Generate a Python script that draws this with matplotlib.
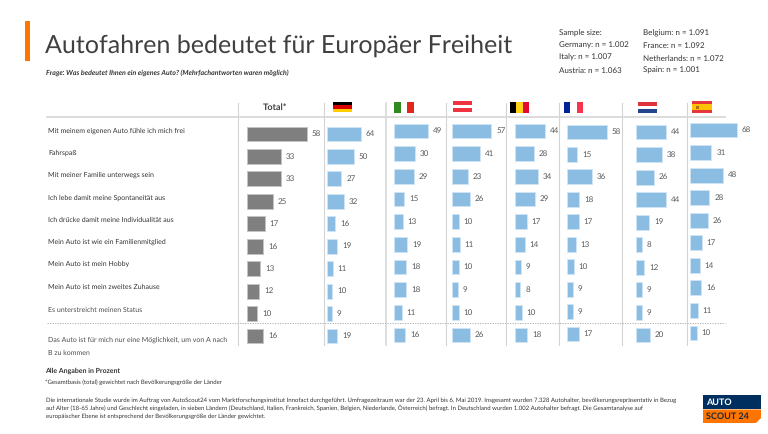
import matplotlib
matplotlib.use("Agg")
import matplotlib.pyplot as plt
from matplotlib.patches import Rectangle, Polygon

plt.rcParams['font.family'] = ['Lato', 'DejaVu Sans']
plt.rcParams['text.hinting'] = 'none'
plt.rcParams['text.hinting_factor'] = 1

W, H = 768, 434

# Data
answers = ["Mit meinem eigenen Auto fühle ich mich frei", "Fahrspaß", "Mit meiner Familie unterwegs sein",
           "Ich lebe damit meine Spontaneität aus", "Ich drücke damit meine Individualität aus",
           "Mein Auto ist wie ein Familienmitglied", "Mein Auto ist mein Hobby",
           "Mein Auto ist mein zweites Zuhause", "Es unterstreicht meinen Status",
           "Das Auto ist für mich nur eine Möglichkeit, um von A nach\nB zu kommen"]
total = [58, 33, 33, 25, 17, 16, 13, 12, 10, 16]
germany = [64, 50, 27, 32, 16, 19, 11, 10, 9, 19]
italy = [49, 30, 29, 15, 13, 19, 18, 18, 11, 16]
austria = [57, 41, 23, 26, 10, 11, 10, 9, 10, 26]
belgium = [44, 28, 34, 29, 17, 14, 9, 8, 10, 18]
france = [58, 15, 36, 18, 17, 13, 10, 9, 9, 17]
netherlands = [44, 38, 26, 44, 19, 8, 12, 9, 9, 20]
spain = [68, 31, 48, 28, 26, 17, 14, 16, 11, 10]
sample_left = ["Sample size:", "Germany: n = 1.002", "Italy: n = 1.007", "Austria: n = 1.063"]
sample_right = ["Belgium: n = 1.091", "France: n = 1.092", "Netherlands: n = 1.072", "Spain: n = 1.001"]
footnote = ["Die internationale Studie wurde im Auftrag von AutoScout24 vom Marktforschungsinstitut Innofact durchgeführt. Umfragezeitraum war der 23. April bis 6. Mai 2019. Insgesamt wurden 7.328 Autohalter, bevölkerungsrepräsentativ in Bezug",
            "auf Alter (18-65 Jahre) und Geschlecht eingeladen, in sieben Ländern (Deutschland, Italien, Frankreich, Spanien, Belgien, Niederlande, Österreich) befragt. In Deutschland wurden 1.002 Autohalter befragt. Die Gesamtanalyse auf",
            "europäischer Ebene ist entsprechend der Bevölkerungsgröße der Länder gewichtet."]

fig = plt.figure(figsize=(W / 100, H / 100), dpi=100, facecolor="white")

# overlay in pixel coords for the slide furniture
bg = fig.add_axes([0, 0, 1, 1])
bg.set_xlim(0, W)
bg.set_ylim(H, 0)
bg.axis("off")

def add_panel(values, x0, px_per_unit, y_first, y_last, color, edge):
    step = (y_last - y_first) / 9
    n = len(values)
    top = y_first - step / 2
    height = step * n
    width = 75
    ax = fig.add_axes([x0 / W, 1 - (top + height) / H, width / W, height / H])
    ax.patch.set_alpha(0)
    bars = ax.barh(range(n), values, height=0.66, color=color, edgecolor=edge, linewidth=0.7)
    ax.bar_label(bars, padding=3.5, fontsize=6, color="#595959")
    ax.set_xlim(0, width / px_per_unit)
    ax.set_ylim(n - 0.5, -0.5)
    ax.axis("off")

GREY, GREY_EDGE = "#7f7f7f", "#c4c4c4"
BLUE, BLUE_EDGE = "#8bbde3", "#cfe5f6"
add_panel(total, 247, 1.03, 134, 336, GREY, GREY_EDGE)
add_panel(germany, 327, 0.53, 134, 336, BLUE, BLUE_EDGE)
add_panel(italy, 394, 0.69, 131, 335, BLUE, BLUE_EDGE)
add_panel(austria, 452, 0.69, 131, 335, BLUE, BLUE_EDGE)
add_panel(belgium, 515, 0.68, 131, 335, BLUE, BLUE_EDGE)
add_panel(france, 567, 0.69, 132, 334, BLUE, BLUE_EDGE)
add_panel(netherlands, 636, 0.69, 132, 335, BLUE, BLUE_EDGE)
add_panel(spain, 690, 0.69, 130, 333, BLUE, BLUE_EDGE)

# table lines
for x in [238, 324, 386, 446, 506, 559, 622, 687]:
    bg.plot([x, x], [103, 345], color="#d4d4d4", lw=1.1 if x == 386 else 0.8)
bg.plot([47, 725], [117, 117], color="#d9d9d9", lw=1.3)
bg.plot([47, 725], [323, 323], color="#a6a6a6", lw=0.6, ls=(0, (1.5, 1.5)))

# title block
bg.add_patch(Rectangle((25, 21), 5, 40, color="#ff7500", lw=0))
bg.text(45, 46, "Autofahren bedeutet für Europäer Freiheit", fontsize=18.3, color="#404040", va="center")
bg.text(46, 73, "Frage: Was bedeutet Ihnen ein eigenes Auto? (Mehrfachantworten waren möglich)",
        fontsize=5.1, color="#333333", va="center", fontweight="bold", style="italic")
for i, s in enumerate(sample_left):
    bg.text(559, 33 + i * 12.4, s, fontsize=5.6, color="#333333", va="center")
for i, s in enumerate(sample_right):
    bg.text(643, 33 + i * 12.6, s, fontsize=5.6, color="#333333", va="center")

bg.text(275, 107, "Total*", fontsize=6.2, color="#404040", ha="center", va="center", fontweight="bold")

# row labels
label_y = [131, 153, 175, 198, 220, 242, 264, 287, 310]
for i, y in enumerate(label_y):
    bg.text(48, y, answers[i], fontsize=4.85, color="#333333" if i < 8 else "#4d4d4d", va="center")
first, second = answers[9].split("\n")
bg.text(48, 340, first, fontsize=4.75, color="#4d4d4d", va="center")
bg.text(48, 353, second, fontsize=4.75, color="#4d4d4d", va="center")

# flags
def stripes_h(x0, x1, y0, y1, colors):
    h = (y1 - y0) / len(colors)
    for i, c in enumerate(colors):
        bg.add_patch(Rectangle((x0, y0 + i * h), x1 - x0, h, color=c, lw=0))

def stripes_v(x0, x1, y0, y1, colors):
    w = (x1 - x0) / len(colors)
    for i, c in enumerate(colors):
        bg.add_patch(Rectangle((x0 + i * w, y0), w, y1 - y0, color=c, lw=0))

stripes_h(333, 352, 102, 112, ["#000000", "#dd0000", "#ffce00"])
stripes_v(394, 414, 102, 113, ["#2f8a1f", "#ffffff", "#e1261c"])
stripes_h(453, 472, 101, 112, ["#ef3340", "#ffffff", "#ef3340"])
stripes_v(510, 529, 102, 113, ["#000000", "#fdd116", "#e30a2f"])
stripes_v(564, 583, 102, 113, ["#002395", "#ffffff", "#f7344a"])
stripes_h(638, 657, 102, 113, ["#e0313f", "#ffffff", "#21468b"])
stripes_h(692, 712, 101, 113, ["#e6353b", "#fcc400", "#fcc400", "#e6353b"])
bg.add_patch(Rectangle((696, 105.5), 3, 3.5, color="#c0651f", lw=0))

# footer
bg.text(45, 371, "Alle Angaben in Prozent", fontsize=5.0, color="#333333", va="center", fontweight="bold")
bg.text(45, 382, "*Gesamtbasis (total) gewichtet nach Bevölkerungsgröße der Länder", fontsize=4.6, color="#333333", va="center")
for y, line in zip([400, 408, 416], footnote):
    bg.text(46, y, line, fontsize=4.35, color="#333333", va="center")

# logo
bg.add_patch(Rectangle((703, 395), 58, 13.5, color="#002f5f", lw=0))
bg.add_patch(Polygon([(703, 409.5), (761, 409.5), (761, 418), (756, 423), (703, 423)], color="#ff7500", lw=0))
bg.text(706, 402, "AUTO", fontsize=6.3, color="white", va="center", fontweight="bold")
bg.text(706, 416.5, "SCOUT 24", fontsize=6.3, color="#1a2a3a", va="center", fontweight="bold")

fig.savefig("out.png", dpi=100)
